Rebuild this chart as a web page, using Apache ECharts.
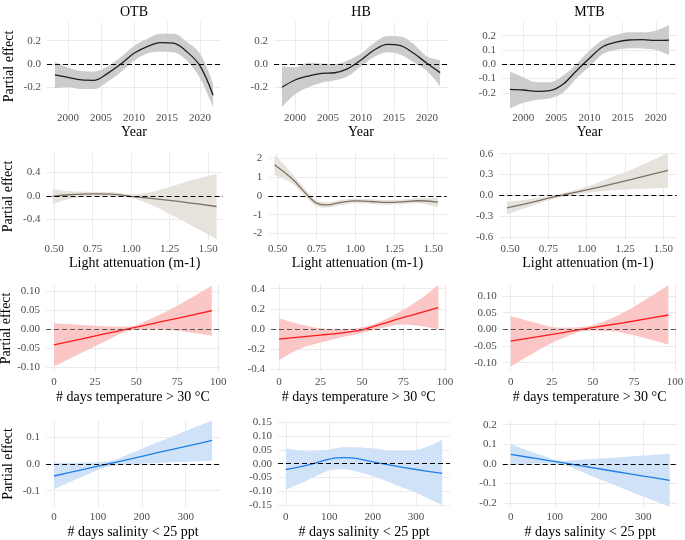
<!DOCTYPE html>
<html>
<head>
<meta charset="utf-8">
<script src="https://cdn.jsdelivr.net/npm/echarts@6/dist/echarts.min.js"></script>
<style>
  html, body { margin: 0; padding: 0; background: #fff; }
  #main { width: 685px; height: 540px; }
</style>
</head>
<body>
<div id="main"></div>
<script>
// ---- data ----
var yearX = [1998, 2000, 2002, 2004, 2006, 2008, 2010, 2012, 2014, 2016, 2018, 2020, 2022];

var otbYearFit = [-0.094, -0.115, -0.137, -0.14, -0.08, 0.0, 0.092, 0.149, 0.183, 0.178, 0.106, -0.014, -0.268];
var otbYearHi = [0.02, -0.03, -0.06, -0.065, -0.02, 0.06, 0.155, 0.215, 0.26, 0.26, 0.19, 0.09, -0.17];
var otbYearLo = [-0.21, -0.2, -0.215, -0.215, -0.15, -0.07, 0.028, 0.09, 0.105, 0.1, 0.03, -0.12, -0.37];

var hbYearFit = [-0.2, -0.137, -0.103, -0.08, -0.075, -0.04, 0.034, 0.12, 0.169, 0.157, 0.092, 0.006, -0.074];
var hbYearHi = [-0.02, -0.03, 0.01, 0.005, 0.0, 0.03, 0.09, 0.18, 0.24, 0.235, 0.17, 0.065, 0.035];
var hbYearLo = [-0.37, -0.26, -0.2, -0.16, -0.14, -0.105, -0.02, 0.06, 0.1, 0.08, 0.015, -0.06, -0.19];

var mtbYearFit = [-0.175, -0.18, -0.19, -0.185, -0.14, -0.047, 0.042, 0.123, 0.155, 0.17, 0.172, 0.167, 0.169];
var mtbYearHi = [-0.05, -0.09, -0.125, -0.125, -0.08, 0.0, 0.096, 0.17, 0.205, 0.225, 0.225, 0.235, 0.275];
var mtbYearLo = [-0.31, -0.27, -0.25, -0.24, -0.2, -0.1, -0.016, 0.072, 0.1, 0.112, 0.11, 0.1, 0.065];

var otbLightX = [0.49, 0.6, 0.75, 0.875, 1.0, 1.125, 1.25, 1.375, 1.555];
var otbLightFit = [-0.01, 0.017, 0.034, 0.029, -0.011, -0.046, -0.08, -0.12, -0.183];
var otbLightHi = [0.12, 0.075, 0.065, 0.06, 0.02, 0.06, 0.15, 0.25, 0.37];
var otbLightLo = [-0.14, -0.055, 0.0, -0.005, -0.04, -0.15, -0.31, -0.48, -0.74];

var hbLightX = [0.48, 0.55, 0.6, 0.65, 0.7, 0.75, 0.8, 0.85, 0.9, 1.0, 1.1, 1.2, 1.3, 1.4, 1.53];
var hbLightFit = [1.66, 1.21, 0.86, 0.41, -0.04, -0.39, -0.48, -0.45, -0.36, -0.27, -0.3, -0.35, -0.32, -0.26, -0.33];
var hbLightHi = [2.2, 1.57, 1.1, 0.62, 0.14, -0.22, -0.33, -0.32, -0.22, -0.15, -0.18, -0.22, -0.2, -0.13, -0.1];
var hbLightLo = [1.12, 0.86, 0.62, 0.2, -0.22, -0.55, -0.63, -0.58, -0.5, -0.39, -0.42, -0.48, -0.44, -0.39, -0.6];

var mtbLightX = [0.48, 0.6, 0.75, 0.85, 1.0, 1.15, 1.3, 1.53];
var mtbLightFit = [-0.18, -0.12, -0.04, 0.01, 0.08, 0.155, 0.235, 0.36];
var mtbLightHi = [-0.09, -0.06, -0.01, 0.035, 0.125, 0.25, 0.38, 0.61];
var mtbLightLo = [-0.27, -0.18, -0.07, -0.015, 0.035, 0.07, 0.09, 0.11];

var otbTempX = [0, 15, 30, 45, 60, 75, 96];
var otbTempFit = [-0.041, -0.027, -0.013, 0.001, 0.015, 0.029, 0.049];
var otbTempHi = [0.016, 0.012, 0.008, 0.007, 0.03, 0.062, 0.115];
var otbTempLo = [-0.098, -0.066, -0.034, -0.005, 0.0, -0.004, -0.017];

var hbTempX = [0, 12, 25, 37, 50, 62, 75, 87, 96];
var hbTempFit = [-0.1, -0.08, -0.06, -0.04, -0.008, 0.05, 0.115, 0.17, 0.213];
var hbTempHi = [0.107, 0.05, 0.007, -0.002, 0.017, 0.08, 0.19, 0.32, 0.44];
var hbTempLo = [-0.31, -0.2, -0.135, -0.085, -0.04, 0.01, 0.045, 0.025, -0.005];

var mtbTempX = [0, 15, 30, 47, 60, 75, 96];
var mtbTempFit = [-0.035, -0.023, -0.011, 0.003, 0.013, 0.025, 0.043];
var mtbTempHi = [0.04, 0.02, 0.005, 0.009, 0.03, 0.068, 0.133];
var mtbTempLo = [-0.112, -0.068, -0.03, -0.004, -0.005, -0.018, -0.046];

var otbSalX = [0, 60, 120, 180, 240, 300, 360];
var otbSalFit = [-0.045, -0.023, -0.001, 0.021, 0.044, 0.066, 0.088];
var otbSalHi = [0.005, 0.005, 0.009, 0.043, 0.084, 0.124, 0.163];
var otbSalLo = [-0.095, -0.051, -0.011, -0.001, 0.004, 0.008, 0.013];

var hbSalX = [0, 50, 100, 130, 150, 200, 250, 300, 360];
var hbSalFit = [-0.021, -0.005, 0.017, 0.022, 0.021, 0.007, -0.008, -0.021, -0.035];
var hbSalHi = [0.056, 0.045, 0.052, 0.06, 0.06, 0.056, 0.046, 0.05, 0.086];
var hbSalLo = [-0.095, -0.06, -0.025, -0.02, -0.024, -0.045, -0.075, -0.105, -0.15];

var mtbSalX = [0, 60, 120, 180, 240, 300, 360];
var mtbSalFit = [0.048, 0.026, 0.004, -0.018, -0.041, -0.063, -0.085];
var mtbSalHi = [0.103, 0.051, 0.016, 0.024, 0.032, 0.042, 0.053];
var mtbSalLo = [-0.007, 0.001, -0.008, -0.06, -0.114, -0.168, -0.22];

// tick labels
var yearTicks = [2000, 2005, 2010, 2015, 2020];
var lightTicks = [0.5, 0.75, 1.0, 1.25, 1.5];
var tempTicks = [0, 25, 50, 75, 100];
var salTicks = [0, 100, 200, 300];
var colTitles = ['OTB', 'HB', 'MTB'];
var rowNames = ['Year', 'Light attenuation (m-1)', '# days temperature > 30 °C', '# days salinity < 25 ppt'];

// ---- panel setup ----
var FONT = '"Liberation Serif", "Times New Roman", serif';
var TICK = '#4d4d4d';
var GRIDC = '#ebebeb';

var rows = [
  { top: 22, bottom: 111, ticks: yearTicks, dec: 0, band: '#cccccc', line: '#1f1f1f', zero: '#000', lm: 2, ng: 12 },
  { top: 153, bottom: 240, ticks: lightTicks, dec: 2, band: '#e6e2dc', line: '#7d7164', zero: '#000', lm: 4, ng: 15 },
  { top: 285, bottom: 371.7, ticks: tempTicks, dec: 0, band: '#fbc6c6', line: '#ff1a1a', zero: '#555', lm: 5, ng: 19 },
  { top: 421, bottom: 506.7, ticks: salTicks, dec: 0, band: '#cfe2f8', line: '#1f7fe8', zero: '#000', lm: 4.5, ng: 19 }
];

var panels = [
  { x: yearX, fit: otbYearFit, hi: otbYearHi, lo: otbYearLo, l: 47, r: 221, xr: [1996.8, 2023.2], yr: [-0.403, 0.36], yt: [-0.2, 0, 0.2], yd: 1 },
  { x: yearX, fit: hbYearFit, hi: hbYearHi, lo: hbYearLo, l: 274, r: 448, xr: [1996.8, 2023.2], yr: [-0.403, 0.36], yt: [-0.2, 0, 0.2], yd: 1 },
  { x: yearX, fit: mtbYearFit, hi: mtbYearHi, lo: mtbYearLo, l: 502, r: 677, xr: [1996.8, 2023.2], yr: [-0.327, 0.296], yt: [-0.2, -0.1, 0, 0.1, 0.2], yd: 1 },
  { x: otbLightX, fit: otbLightFit, hi: otbLightHi, lo: otbLightLo, l: 46.5, r: 223, xr: [0.45, 1.597], yr: [-0.755, 0.73], yt: [-0.4, 0, 0.4], yd: 1 },
  { x: hbLightX, fit: hbLightFit, hi: hbLightHi, lo: hbLightLo, l: 268.3, r: 446.7, xr: [0.44, 1.586], yr: [-2.35, 2.28], yt: [-2, -1, 0, 1, 2], yd: 0 },
  { x: mtbLightX, fit: mtbLightFit, hi: mtbLightHi, lo: mtbLightLo, l: 499.3, r: 676.7, xr: [0.43, 1.587], yr: [-0.64, 0.61], yt: [-0.6, -0.3, 0, 0.3, 0.6], yd: 1 },
  { x: otbTempX, fit: otbTempFit, hi: otbTempHi, lo: otbTempLo, l: 46.1, r: 219.6, xr: [-4.8, 100.8], yr: [-0.112, 0.117], yt: [-0.1, -0.05, 0, 0.05, 0.1], yd: 2 },
  { x: hbTempX, fit: hbTempFit, hi: hbTempHi, lo: hbTempLo, l: 271, r: 446.3, xr: [-4.8, 100.8], yr: [-0.424, 0.437], yt: [-0.4, -0.2, 0, 0.2, 0.4], yd: 1 },
  { x: mtbTempX, fit: mtbTempFit, hi: mtbTempHi, lo: mtbTempLo, l: 502.8, r: 676.3, xr: [-4.8, 100.8], yr: [-0.127, 0.133], yt: [-0.1, -0.05, 0, 0.05, 0.1], yd: 2 },
  { x: otbSalX, fit: otbSalFit, hi: otbSalHi, lo: otbSalLo, l: 46.1, r: 220, xr: [-18, 378], yr: [-0.16, 0.161], yt: [-0.1, 0, 0.1], yd: 1 },
  { x: hbSalX, fit: hbSalFit, hi: hbSalHi, lo: hbSalLo, l: 278, r: 450, xr: [-18, 378], yr: [-0.156, 0.155], yt: [-0.15, -0.1, -0.05, 0, 0.05, 0.1, 0.15], yd: 2 },
  { x: mtbSalX, fit: mtbSalFit, hi: mtbSalHi, lo: mtbSalLo, l: 502.7, r: 677.7, xr: [-18, 378], yr: [-0.22, 0.219], yt: [-0.2, -0.1, 0, 0.1, 0.2], yd: 1 }
];

var grids = [], xAxes = [], yAxes = [], series = [];

panels.forEach(function (p, i) {
  var row = rows[Math.floor(i / 3)];
  var col = i % 3;
  grids.push({ left: p.l, top: row.top, width: p.r - p.l, height: row.bottom - row.top, outerBoundsMode: 'none' });

  xAxes.push({
    type: 'value', gridIndex: i, min: p.xr[0], max: p.xr[1],
    axisLine: { show: false },
    axisTick: { show: false, customValues: row.ticks },
    axisLabel: {
      customValues: row.ticks, margin: row.lm, color: TICK, fontFamily: FONT, fontSize: 11,
      formatter: (function (d) { return function (v) { return v.toFixed(d); }; })(row.dec)
    },
    splitLine: { show: true, lineStyle: { color: GRIDC, width: 1 } },
    name: rowNames[Math.floor(i / 3)], nameLocation: 'middle', nameGap: row.ng,
    nameTextStyle: { color: '#000', fontFamily: FONT, fontSize: 14 }
  });

  yAxes.push({
    type: 'value', gridIndex: i, min: p.yr[0], max: p.yr[1],
    axisLine: { show: false },
    axisTick: { show: false, customValues: p.yt },
    axisLabel: {
      customValues: p.yt, margin: 6, color: TICK, fontFamily: FONT, fontSize: 11,
      formatter: (function (d) { return function (v) { return v.toFixed(d); }; })(p.yd)
    },
    splitLine: { show: true, lineStyle: { color: GRIDC, width: 1 } },
    name: col === 0 ? 'Partial effect' : '', nameLocation: 'middle', nameGap: 31, nameRotate: 90,
    nameTextStyle: { color: '#000', fontFamily: FONT, fontSize: 14 }
  });

  // confidence band: lower bound + (upper - lower) stacked, y dimension first so it is the stacked one
  series.push({
    type: 'line', xAxisIndex: i, yAxisIndex: i, stack: 'band' + i, stackStrategy: 'all',
    data: p.x.map(function (v, k) { return [p.lo[k], v]; }),
    encode: { x: 1, y: 0 }, symbol: 'none', smooth: 0.35,
    lineStyle: { opacity: 0 }, silent: true
  });
  series.push({
    type: 'line', xAxisIndex: i, yAxisIndex: i, stack: 'band' + i, stackStrategy: 'all',
    data: p.x.map(function (v, k) { return [p.hi[k] - p.lo[k], v]; }),
    encode: { x: 1, y: 0 }, symbol: 'none', smooth: 0.35,
    lineStyle: { opacity: 0 }, areaStyle: { color: row.band, opacity: 1 }, silent: true
  });
  series.push({
    type: 'line', xAxisIndex: i, yAxisIndex: i,
    data: p.x.map(function (v, k) { return [v, p.fit[k]]; }),
    symbol: 'none', smooth: 0.35, silent: true,
    lineStyle: { color: row.line, width: 1.3 },
    markLine: {
      silent: true, symbol: ['none', 'none'], label: { show: false },
      lineStyle: { color: row.zero, type: [5, 3], width: 1.2 },
      data: [{ yAxis: 0 }]
    }
  });
});

var titleX = [134, 361, 589.5];
var graphics = colTitles.map(function (t, c) {
  return {
    type: 'text', x: titleX[c], y: 12,
    style: { text: t, font: '14px ' + FONT, fill: '#000', textAlign: 'center', textVerticalAlign: 'middle' }
  };
});

var chart = echarts.init(document.getElementById('main'));
chart.setOption({
  animation: false,
  backgroundColor: '#fff',
  grid: grids,
  xAxis: xAxes,
  yAxis: yAxes,
  series: series,
  graphic: graphics
});
</script>
</body>
</html>
